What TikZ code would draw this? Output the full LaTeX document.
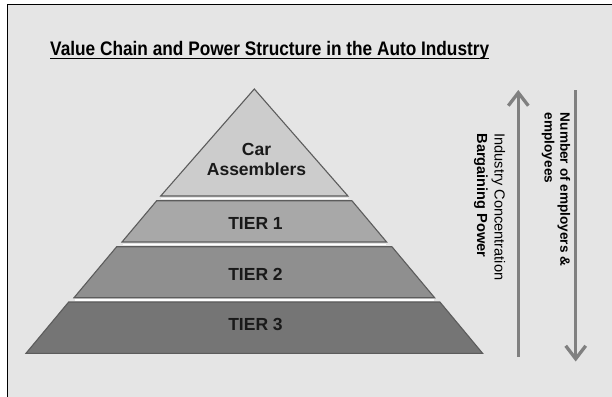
\documentclass[tikz,border=0pt]{standalone}
\usepackage{fontspec}
\setmainfont{Liberation Sans}
\usetikzlibrary{arrows.meta}
\definecolor{bgcol}{gray}{0.898}
\definecolor{edgecol}{gray}{0.36}
\definecolor{lay0}{gray}{0.80}
\definecolor{lay1}{gray}{0.66}
\definecolor{lay2}{gray}{0.56}
\definecolor{lay3}{gray}{0.46}
\definecolor{arrcol}{gray}{0.50}
\tikzset{
  layer/.style={draw=edgecol, line width=1.1pt, line join=miter},
  gapline/.style={white, line width=1.6pt},
  lbl/.style={inner sep=0pt, font=\bfseries\fontsize{17.5}{20}\selectfont, text=black!90},
  bigarrow/.style={draw=arrcol, line width=3.3pt, -{Straight Barb[length=13pt,width=20pt]}},
  sidetext/.style={rotate=-90, anchor=north west, align=left, inner sep=0pt}
}
\begin{document}
\begin{tikzpicture}[x=1pt,y=-1pt]
\useasboundingbox (0,0) rectangle (612,396);
\clip (0,0) rectangle (612,396);
\draw[line width=1.5pt, fill=bgcol] (7.3,4.7) rectangle (630,410);

% title
\node[inner sep=0pt, anchor=base, font=\bfseries\fontsize{19.6}{22}\selectfont] (title) at (269.7,55.3)
  {\scalebox{0.88}[1]{Value Chain and Power Structure in the Auto Industry}};
\draw[line width=1.4pt] ([yshift=-3.2pt]title.base west) -- ([yshift=-3.2pt]title.base east);

% pyramid
\draw[layer, fill=lay0] (254.3,89) -- (347.9,196) -- (160.7,196) -- cycle;
\draw[layer, fill=lay1] (156.7,200.7) -- (351.9,200.7) -- (386.6,242) -- (122,242) -- cycle;
\draw[layer, fill=lay2] (116.7,246.7) -- (391.9,246.7) -- (434.6,297.7) -- (74,297.7) -- cycle;
\draw[layer, fill=lay3] (68.7,302) -- (439.9,302) -- (482.6,353.3) -- (26,353.3) -- cycle;
\draw[gapline] (161,198.4) -- (347.6,198.4);
\draw[gapline] (122.5,244.4) -- (386.1,244.4);
\draw[gapline] (74.5,299.9) -- (434.1,299.9);

\node[lbl, align=center, anchor=north] (car) at (256.5,142.6) {Car\\Assemblers};
\node[lbl, anchor=base] (tier1) at (255.5,229.3) {TIER 1};
\node[lbl, anchor=base] (tier2) at (255.5,280) {TIER 2};
\node[lbl, anchor=base] (tier3) at (255.5,330) {TIER 3};

% arrows
\coordinate (upbot) at (518.3,356.7);
\coordinate (uptop) at (518.3,90);
\coordinate (dntop) at (575.7,90);
\coordinate (dnbot) at (575.7,361.5);
\draw[bigarrow] (upbot) -- (uptop);
\draw[bigarrow] (dntop) -- (dnbot);

\node[sidetext, font=\fontsize{14.6}{17.5}\selectfont] (conc) at (505.5,133.3)
  {Industry Concentration\\\textbf{Bargaining Power}};
\node[sidetext, font=\bfseries\fontsize{13.6}{15.6}\selectfont] (num) at (570.3,112.7)
  {Number of employers \&\\employees};
\end{tikzpicture}
\end{document}
